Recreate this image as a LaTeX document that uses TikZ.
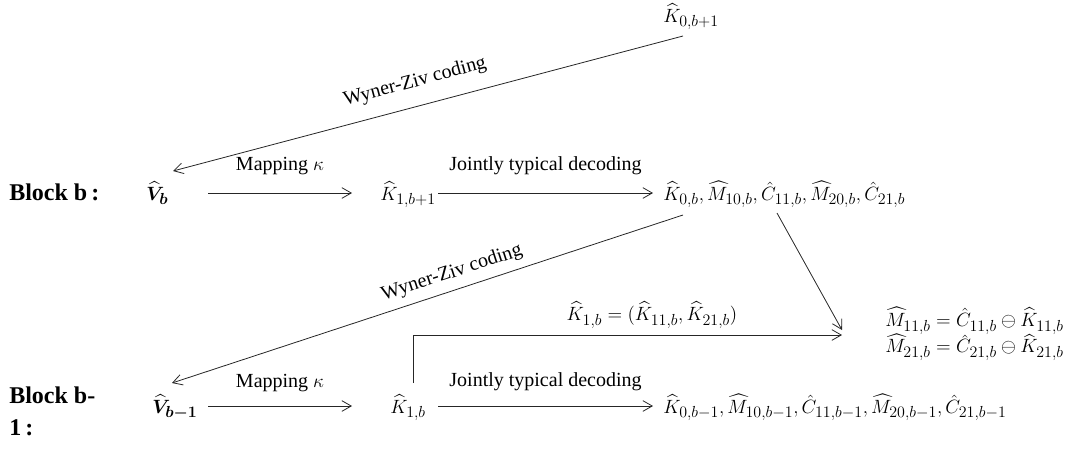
\documentclass[tikz,border=0pt]{standalone}
\usepackage{amsmath,bm}
\usepackage{fontspec}
\setmainfont{Liberation Serif}
\DeclareMathSizes{15}{15}{11.5}{9}
\usetikzlibrary{arrows.meta}
\begin{document}
\begin{tikzpicture}[x=0.75pt,y=-0.75pt,
  lbl/.style={font=\fontsize{15}{18}\selectfont, inner sep=0pt},
  mth/.style={font=\fontsize{15}{18}\selectfont, inner sep=0pt},
  blk/.style={font=\fontsize{18}{24}\selectfont\bfseries, inner sep=0pt, align=left},
  arr/.style={-{Straight Barb[length=7pt,width=8pt]}, line width=0.6pt, draw=black!85},
]
\useasboundingbox (0,0) rectangle (1086,451);
% row 1
\node[blk, anchor=base west] (blockb) at (9,200) {Block b\hspace{3pt}:};
\node[mth, anchor=base west] (vb) at (146,200) {$\bm{\widehat{V}_{b}}$};
\node[mth, anchor=base west] (k1bp1) at (380,200) {$\widehat{K}_{1,b+1}$};
\node[mth, anchor=base west] (kset1) at (663,200) {$\widehat{K}_{0,b},\widehat{M}_{10,b},\hat{C}_{11,b},\widehat{M}_{20,b},\hat{C}_{21,b}$};
\node[mth, anchor=base west] (k0bp1) at (663,22) {$\widehat{K}_{0,b+1}$};
% row 2
\node[blk, anchor=north west] (blockb1) at (9,387) {Block b-\\1\hspace{3pt}:};
\node[mth, anchor=base west] (vbm1) at (152,413) {$\bm{\widehat{V}_{b-1}}$};
\node[mth, anchor=base west] (k1b) at (390,413) {$\widehat{K}_{1,b}$};
\node[mth, anchor=base west] (kset2) at (663,413) {$\widehat{K}_{0,b-1},\widehat{M}_{10,b-1},\hat{C}_{11,b-1},\widehat{M}_{20,b-1},\hat{C}_{21,b-1}$};
% equations
\node[mth, anchor=west, align=left] (eq) at (885,334)
  {$\widehat{M}_{11,b}=\hat{C}_{11,b}\ominus\widehat{K}_{11,b}$\\[-1.5pt]$\widehat{M}_{21,b}=\hat{C}_{21,b}\ominus\widehat{K}_{21,b}$};
% row 1 arrows
\draw[arr] ([shift={(62,-7)}]vb.base west) -- ([shift={(-28,-7)}]k1bp1.base west)
  node[lbl, midway, anchor=base, yshift=17pt] (map1) {Mapping $\kappa$};
\draw[arr] ([shift={(58,-7)}]k1bp1.base west) -- ([shift={(-10,-7)}]kset1.base west)
  node[lbl, midway, anchor=base, yshift=17pt] (jtd1) {Jointly typical decoding};
% row 2 arrows
\draw[arr] ([shift={(56,-7)}]vbm1.base west) -- ([shift={(-38,-7)}]k1b.base west)
  node[lbl, midway, anchor=base, yshift=14pt] (map2) {Mapping $\kappa$};
\draw[arr] ([shift={(48,-7)}]k1b.base west) -- ([shift={(-10,-7)}]kset2.base west)
  node[lbl, midway, anchor=base, yshift=15pt] (jtd2) {Jointly typical decoding};
% Wyner-Ziv
\draw[arr] ([shift={(20,14)}]k0bp1.base west) -- ([shift={(27,-29)}]vb.base west);
\node[lbl, rotate=15] (wz1) at (415,82) {Wyner-Ziv coding};
\draw[arr] ([shift={(20,15)}]kset1.base west) -- ([shift={(20,-30)}]vbm1.base west);
\node[lbl, rotate=18] (wz2) at (452,273) {Wyner-Ziv coding};
% to equations
\draw[arr] ([shift={(114,13)}]kset1.base west) -- ([shift={(-43,-4)}]eq.west);
\draw[arr] ([shift={(23,-30)}]k1b.base west) |- ([shift={(-43,1)}]eq.west);
\node[mth] (k1blbl) at (652,315) {$\widehat{K}_{1,b}=(\widehat{K}_{11,b},\widehat{K}_{21,b})$};
\end{tikzpicture}
\end{document}
